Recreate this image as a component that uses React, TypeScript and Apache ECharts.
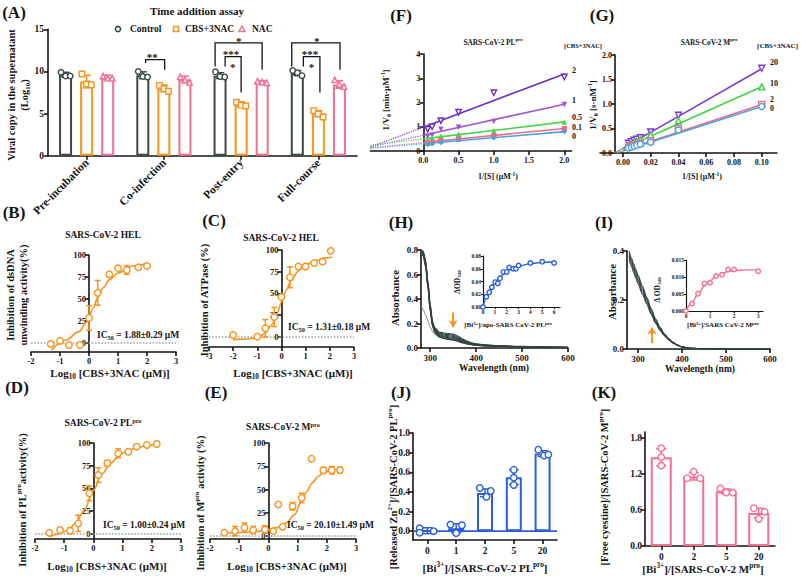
import React, { useEffect, useRef } from 'react';
import * as echarts from 'echarts';

const FONT = '"Liberation Serif", "Times New Roman", serif';
const INK = '#151515';
const ORANGE = '#f7931e';
const SLATE = '#3b4949';
const PINK = '#f2708f';
const BLUE = '#2b5ed8';
const DOT = '#9ca3a3';
const SPEC = '#344242';

// ---------- (A) Time addition assay ----------
const aCategories = ['Pre-incubation', 'Co-infection', 'Post-entry', 'Full-course'];
const aGroups = ['Control', 'CBS+3NAC', 'NAC'];
const aControlMean = [9.6, 9.55, 9.5, 9.8];
const aControlSd = [0.3, 0.4, 0.35, 0.3];
const aControlPts = [[9.9, 9.45, 9.45], [10.0, 9.4, 9.35], [9.95, 9.4, 9.35], [10.1, 9.85, 9.5]];
const aCbsMean = [8.8, 8.0, 6.1, 5.0];
const aCbsSd = [0.75, 0.4, 0.3, 0.35];
const aCbsPts = [[9.7, 8.5, 8.4], [8.35, 7.95, 7.65], [6.35, 6.0, 5.9], [5.35, 4.95, 4.6]];
const aNacMean = [9.3, 9.05, 8.75, 8.45];
const aNacSd = [0.25, 0.4, 0.15, 0.45];
const aNacPts = [[9.45, 9.2, 9.2], [9.35, 9.0, 8.7], [8.85, 8.75, 8.65], [9.0, 8.45, 8.2]];
// brackets: [x1, x2, yTop, yLeftEnd, yRightEnd] (category-index units / log10 copies)
const aBrackets = [
  [0.763, 1.01, 11.4, 11.0, 10.2],
  [1.663, 2.272, 13.4, 10.6, 10.2],
  [1.793, 2.0, 11.75, 10.6, 7.5],
  [2.655, 3.28, 13.4, 10.6, 10.2],
  [2.806, 3.02, 11.75, 10.6, 7.5],
];
const aStarPos = [[0.85, 12.0], [1.97, 13.9], [1.87, 12.4], [1.89, 10.8], [2.98, 13.95], [2.89, 12.4], [2.91, 10.8]];
const aStarText = ['**', '*', '***', '*', '*', '***', '*'];

// ---------- (B) HEL dsDNA unwinding ----------
const bX = [-1.32, -1.0, -0.69, -0.31, 0.0, 0.3, 0.7, 1.0, 1.3, 1.7, 2.0];
const bY = [-1, 2.6, -2.3, -2.3, 28.5, 57, 78, 85, 83, 86, 87.5];
const bErr = [0, 0, 0, 0, 14, 14, 0, 0, 5, 0, 0];
const bFitX = [-1.3, -0.8, -0.35, -0.07, 0.15, 0.3, 0.5, 0.7, 1.0, 1.5, 2.0];
const bFitY = [-8, 3.4, 13, 24, 40, 52, 63, 72, 79.5, 87.5, 90.5];

// ---------- (C) HEL ATPase ----------
const cX = [-2.0, -1.0, -0.67, -0.3, 0.0, 0.35, 0.7, 1.0, 1.35, 1.7, 2.04];
const cY = [2.3, 0.4, 10, 23, 46, 68.6, 81, 81, 85, 86.6, 99];
const cErr = [0, 0, 10, 11, 0, 12, 0, 0, 0, 0, 0];
const cFitX = [-2, -1.5, -1, -0.7, -0.4, -0.2, 0, 0.2, 0.4, 0.7, 1.0, 1.4, 1.8, 2.1];
const cFitY = [-3, -2.5, -1, 4, 14, 26, 40, 54, 65, 76, 83, 88, 91, 92];

// ---------- (D) PLpro ----------
const dX = [-1.51, -1.14, -0.8, -0.52, -0.14, 0.17, 0.48, 0.85, 1.2, 1.48, 1.83, 2.17];
const dY = [1.4, 4.4, 3.6, 11.7, 44.7, 64.8, 77.7, 88.6, 90.4, 96, 97.8, 98.9];
const dErr = [0, 0, 3, 9, 8, 8, 3, 5, 0, 0, 0, 0];
const dFitX = [-1.5, -1.2, -0.9, -0.6, -0.3, 0, 0.3, 0.6, 0.9, 1.2, 1.5, 1.8, 2.2];
const dFitY = [-3, 0, 3.6, 12, 27, 48, 66, 78, 87, 92, 95, 97, 99];

// ---------- (E) Mpro ----------
const eX = [-1.51, -1.14, -0.82, -0.52, -0.12, 0.17, 0.34, 0.49, 0.83, 1.14, 1.48, 1.88, 2.17, 2.45];
const eY = [3.6, 5.3, 9, 6.4, 7, 5.3, 34, 10, 32, 41, 83, 70.7, 70.7, 71];
const eErr = [0, 5, 5, 4, 4, 0, 0, 0, 4, 5, 0, 3, 4, 3];
const eFitX = [-1.5, -1, -0.5, 0, 0.3, 0.6, 0.9, 1.14, 1.3, 1.5, 1.7, 1.9, 2.2, 2.5];
const eFitY = [3, 3.5, 4.5, 6.5, 9, 14, 23, 38, 47, 57, 64, 68.5, 71, 72];

// ---------- (F) PLpro Lineweaver-Burk ----------
const fX = [0.0625, 0.125, 0.25, 0.5, 1, 2];
const fY2 = [0.9, 1.0, 1.25, 1.6, 2.4, 3.05];
const fY1 = [0.6, 0.65, 0.9, 0.98, 1.22, 1.92];
const fY05 = [0.45, 0.52, 0.62, 0.7, 0.84, 1.2];
const fY01 = [0.33, 0.36, 0.42, 0.5, 0.63, 0.92];
const fY0 = [0.27, 0.3, 0.35, 0.45, 0.55, 0.8];
const fFitX = [-0.75, 0, 2];
const fFit2 = [0.16, 0.98, 3.18];
const fFit1 = [0.17, 0.65, 1.93];
const fFit05 = [0.24, 0.5, 1.2];
const fFit01 = [0.13, 0.35, 0.93];
const fFit0 = [0.11, 0.3, 0.8];
const fLabels = ['2', '1', '0.5', '0.1', '0'];

// ---------- (G) Mpro Lineweaver-Burk ----------
const gX = [0.004, 0.006, 0.008, 0.01, 0.0125, 0.02, 0.04, 0.1];
const gY20 = [0.2, 0.23, 0.26, 0.28, 0.31, 0.43, 0.77, 1.73];
const gY10 = [0.15, 0.19, 0.22, 0.24, 0.27, 0.37, 0.66, 1.35];
const gY2 = [0.12, 0.14, 0.16, 0.18, 0.2, 0.25, 0.5, 0.99];
const gY0 = [0.1, 0.12, 0.14, 0.16, 0.18, 0.22, 0.47, 0.95];
const gFit20 = [[-0.006, 0], [0, 0.1], [0.1, 1.72]];
const gFit10 = [[-0.007, 0], [0, 0.09], [0.1, 1.35]];
const gFit2 = [[-0.0055, 0], [0, 0.05], [0.1, 0.99]];
const gFit0 = [[-0.0045, 0], [0, 0.04], [0.1, 0.95]];
const gLabels = ['20', '10', '2', '0'];

// ---------- (H) UV-vis PLpro ----------
const hWl = [280, 285, 290, 295, 300, 305, 310, 320, 330, 340, 350, 360, 370, 380, 390, 400, 420, 450, 500, 550, 600];
const hS1 = [0.80, 0.79, 0.72, 0.55, 0.36, 0.22, 0.165, 0.13, 0.122, 0.118, 0.113, 0.098, 0.076, 0.056, 0.043, 0.035, 0.026, 0.019, 0.013, 0.009, 0.006];
const hS2 = [0.80, 0.78, 0.71, 0.54, 0.35, 0.21, 0.158, 0.123, 0.114, 0.109, 0.104, 0.090, 0.069, 0.051, 0.039, 0.032, 0.024, 0.017, 0.012, 0.008, 0.005];
const hS3 = [0.80, 0.78, 0.70, 0.53, 0.34, 0.205, 0.15, 0.116, 0.106, 0.100, 0.095, 0.082, 0.063, 0.047, 0.036, 0.030, 0.022, 0.016, 0.011, 0.007, 0.005];
const hS4 = [0.79, 0.77, 0.69, 0.52, 0.33, 0.198, 0.143, 0.109, 0.098, 0.092, 0.087, 0.075, 0.057, 0.043, 0.033, 0.028, 0.021, 0.015, 0.010, 0.007, 0.004];
const hS5 = [0.79, 0.77, 0.68, 0.51, 0.32, 0.19, 0.137, 0.102, 0.091, 0.084, 0.079, 0.068, 0.052, 0.039, 0.031, 0.026, 0.019, 0.014, 0.009, 0.006, 0.004];
const hS6 = [0.78, 0.76, 0.67, 0.50, 0.31, 0.183, 0.130, 0.096, 0.084, 0.077, 0.072, 0.062, 0.047, 0.036, 0.029, 0.024, 0.018, 0.013, 0.009, 0.006, 0.004];
const hS7 = [0.78, 0.75, 0.66, 0.49, 0.30, 0.176, 0.124, 0.090, 0.078, 0.070, 0.065, 0.056, 0.043, 0.033, 0.027, 0.022, 0.017, 0.012, 0.008, 0.005, 0.003];
const hS0 = [0.35, 0.31, 0.27, 0.22, 0.17, 0.135, 0.11, 0.086, 0.076, 0.069, 0.063, 0.054, 0.042, 0.033, 0.026, 0.021, 0.016, 0.011, 0.008, 0.005, 0.003];
const hInsetX = [0, 0.28, 0.53, 0.75, 1.03, 1.25, 1.44, 1.72, 2.0, 2.22, 2.55, 2.78, 3.0, 4.0, 5.0, 6.0];
const hInsetY = [0, 0.016, 0.023, 0.031, 0.039, 0.037, 0.045, 0.055, 0.055, 0.062, 0.06, 0.06, 0.065, 0.069, 0.071, 0.069];
const hFitX = [0, 0.25, 0.5, 1, 1.5, 2, 2.5, 3, 4, 5, 6];
const hFitY = [0, 0.013, 0.024, 0.038, 0.048, 0.056, 0.061, 0.064, 0.068, 0.070, 0.071];

// ---------- (I) UV-vis Mpro ----------
const iWl = [280, 285, 290, 295, 300, 310, 320, 330, 340, 350, 360, 370, 380, 390, 400, 420, 450, 500, 550, 600];
const iS1 = [0.400, 0.372, 0.348, 0.325, 0.302, 0.258, 0.212, 0.165, 0.124, 0.090, 0.063, 0.043, 0.028, 0.017, 0.009, 0.003, 0.001, 0, 0, 0];
const iS2 = [0.395, 0.366, 0.341, 0.318, 0.295, 0.251, 0.206, 0.160, 0.120, 0.087, 0.061, 0.041, 0.027, 0.016, 0.009, 0.003, 0.001, 0, 0, 0];
const iS3 = [0.388, 0.359, 0.334, 0.311, 0.288, 0.244, 0.200, 0.155, 0.116, 0.084, 0.059, 0.040, 0.026, 0.016, 0.008, 0.003, 0.001, 0, 0, 0];
const iS4 = [0.380, 0.352, 0.327, 0.303, 0.280, 0.237, 0.194, 0.150, 0.112, 0.081, 0.057, 0.038, 0.025, 0.015, 0.008, 0.003, 0.001, 0, 0, 0];
const iS5 = [0.372, 0.344, 0.319, 0.295, 0.272, 0.230, 0.188, 0.145, 0.108, 0.078, 0.055, 0.037, 0.024, 0.014, 0.008, 0.003, 0.001, 0, 0, 0];
const iS6 = [0.365, 0.337, 0.312, 0.288, 0.265, 0.223, 0.182, 0.140, 0.104, 0.075, 0.053, 0.036, 0.023, 0.014, 0.007, 0.002, 0.001, 0, 0, 0];
const iInsetX = [0, 0.25, 0.5, 0.77, 1.0, 1.25, 1.5, 1.75, 2.0, 3.0];
const iInsetY = [0, 0.0022, 0.0051, 0.0081, 0.0083, 0.0103, 0.0107, 0.0122, 0.0122, 0.0117];
const iFitX = [0, 0.25, 0.5, 0.75, 1.0, 1.25, 1.5, 1.75, 2.0, 2.5, 3.0];
const iFitY = [0, 0.0025, 0.005, 0.0072, 0.0089, 0.0102, 0.011, 0.0116, 0.0119, 0.0121, 0.0121];

// ---------- (J) Zn release ----------
const jCategories = ['0', '1', '2', '5', '20'];
const jMean = [0.005, 0.03, 0.39, 0.55, 0.79];
const jSd = [0.03, 0.045, 0.04, 0.075, 0.03];
const jPts = [[0.03, -0.015, 0.0], [0.067, -0.02, 0.06], [0.44, 0.35, 0.41], [0.625, 0.47, 0.545], [0.83, 0.77, 0.78]];
const jJit = [[-0.27, -0.27, 0.22], [-0.2, 0, 0.2], [-0.18, 0.05, 0.2], [0, 0, 0], [-0.15, 0.05, 0.2]];

// ---------- (K) Free cysteine ----------
const kCategories = ['0', '2', '5', '20'];
const kMean = [1.48, 1.16, 0.91, 0.55];
const kSd = [0.14, 0.06, 0.04, 0.08];
const kPts = [[1.63, 1.48, 1.34], [1.24, 1.13, 1.13], [0.96, 0.89, 0.89], [0.63, 0.57, 0.45]];
const kJit = [[0, 0, 0], [0, -0.2, 0.2], [-0.18, 0, 0.2], [-0.15, 0.18, 0]];

const INV_TRI = 'path://M0,0L10,0L5,9Z';

function zip(xs: number[], ys: number[]) {
  return xs.map((x, i) => [x, ys[i]]);
}

function richStyles(size: number, color: string) {
  const s = +(size * 0.66).toFixed(1);
  return {
    sup: { fontSize: s, fontFamily: FONT, fontWeight: 'bold', fill: color, color, verticalAlign: 'top', lineHeight: s },
    sub: { fontSize: s, fontFamily: FONT, fontWeight: 'bold', fill: color, color, verticalAlign: 'bottom', lineHeight: s },
  };
}

function T(x: number, y: number, text: string, size: number, o: any = {}) {
  const color = o.color || INK;
  const align = o.align || 'center';
  return {
    type: 'text', x, y, rotation: o.rot ? Math.PI / 2 : 0, silent: true, z: 100,
    style: {
      text, fill: color, fontSize: size, fontFamily: FONT, fontWeight: o.weight || 'bold',
      align, verticalAlign: 'middle', textAlign: align, textVerticalAlign: 'middle',
      lineHeight: size * 1.25,
      rich: richStyles(size, color),
    },
  };
}

function buildOption() {
  const grid: any[] = [];
  const xAxis: any[] = [];
  const yAxis: any[] = [];
  const series: any[] = [];
  const gfx: any[] = [];

  const G = (left: number, top: number, width: number, height: number) => { grid.push({ left, top, width, height }); return grid.length - 1; };
  const X = (a: any) => { xAxis.push(a); return xAxis.length - 1; };
  const Y = (a: any) => { yAxis.push(a); return yAxis.length - 1; };
  const lineSt = (lw = 1.6) => ({ color: INK, width: lw });

  const val = (gi: number, min: number, max: number, ticks: number[], fmt: any, fs: number, o: any = {}) => ({
    type: 'value', gridIndex: gi, min, max,
    position: o.position, offset: o.offset || 0,
    axisLine: { show: true, onZero: false, lineStyle: lineSt(o.lw) },
    axisTick: { show: true, length: o.tick ?? 4, customValues: ticks, lineStyle: lineSt(o.lw) },
    axisLabel: { show: true, customValues: ticks, formatter: fmt, fontSize: fs, fontFamily: FONT, fontWeight: 'bold', color: INK, margin: o.margin ?? 3 },
    splitLine: { show: false },
  });
  const hidden = (gi: number, min: number, max: number) => ({ type: 'value', gridIndex: gi, min, max, show: false, splitLine: { show: false } });
  const cat = (gi: number, data: string[], fs: number, o: any = {}) => ({
    type: 'category', gridIndex: gi, data,
    axisLine: { show: true, onZero: false, lineStyle: lineSt(o.lw) },
    axisTick: { show: true, alignWithLabel: true, length: 4, lineStyle: lineSt(o.lw) },
    axisLabel: { interval: 0, rotate: o.rotate || 0, fontSize: fs, fontFamily: FONT, fontWeight: 'bold', color: INK, margin: o.margin ?? 5 },
    splitLine: { show: false },
  });

  const errs = (xi: number, yi: number, rows: number[][], color: string, cap: number, lw = 1.5) => ({
    type: 'custom', xAxisIndex: xi, yAxisIndex: yi, silent: true, z: 5,
    data: rows.filter((r) => r[2] > 0),
    renderItem: (params: any, api: any) => {
      const x = api.value(0), m = api.value(1), s = api.value(2);
      const p1 = api.coord([x, m + s]);
      const p2 = api.coord([x, m - s]);
      const st = { stroke: color, lineWidth: lw, fill: 'none' };
      return {
        type: 'group', children: [
          { type: 'line', shape: { x1: p1[0], y1: p1[1], x2: p2[0], y2: p2[1] }, style: st },
          { type: 'line', shape: { x1: p1[0] - cap, y1: p1[1], x2: p1[0] + cap, y2: p1[1] }, style: st },
          { type: 'line', shape: { x1: p2[0] - cap, y1: p2[1], x2: p2[0] + cap, y2: p2[1] }, style: st },
        ],
      };
    },
  });
  const sc = (xi: number, yi: number, data: any[], symbol: string, color: string, size: number, filled = false, name?: string) => ({
    type: 'scatter', name, xAxisIndex: xi, yAxisIndex: yi, data, symbol, symbolSize: size, z: 6, silent: true,
    itemStyle: { color: filled ? color : '#fff', borderColor: color, borderWidth: filled ? 0 : 1.4, opacity: 1 },
  });
  const ln = (xi: number, yi: number, data: any[], color: string, lw: number, o: any = {}) => ({
    type: 'line', xAxisIndex: xi, yAxisIndex: yi, data, symbol: 'none', showSymbol: false,
    smooth: o.smooth || false, smoothMonotone: o.smooth ? 'x' : undefined, silent: true, z: o.z || 3,
    lineStyle: { color, width: lw, type: o.type || 'solid' },
    markLine: o.markLine,
  });

  // ===== (A) =====
  const gA = G(48, 29.3, 309, 126.4);
  const xA = X(cat(gA, aCategories, 11.5, { rotate: 45, margin: 5 }));
  const xAh = X(hidden(gA, -0.5, 3.5));
  const yA = Y(val(gA, 0, 15, [0, 5, 10, 15], (v: number) => String(v), 9.5, { margin: 4 }));
  const aMeans = [aControlMean, aCbsMean, aNacMean];
  const aSds = [aControlSd, aCbsSd, aNacSd];
  const aPts = [aControlPts, aCbsPts, aNacPts];
  const aColors = [SLATE, ORANGE, PINK];
  const aSyms = ['circle', 'rect', 'triangle'];
  const aOff = [-0.272, 0, 0.272];
  const aJit = [-0.06, 0, 0.06];
  for (let k = 0; k < 3; k++) {
    series.push({
      type: 'bar', name: aGroups[k], xAxisIndex: xA, yAxisIndex: yA, data: aMeans[k], barWidth: 13, barGap: '62%',
      itemStyle: { color: '#fff', borderColor: aColors[k], borderWidth: 2 }, z: 2, silent: true,
    });
    series.push(errs(xAh, yA, aMeans[k].map((m, i) => [i + aOff[k], m, aSds[k][i]]), aColors[k], 4));
    series.push(sc(xAh, yA, aPts[k].flatMap((pts, i) => pts.map((v, j) => [i + aOff[k] + aJit[j], v])), aSyms[k], aColors[k], 5.5));
  }
  series.push({
    type: 'custom', xAxisIndex: xAh, yAxisIndex: yA, silent: true, z: 8, data: aBrackets,
    renderItem: (params: any, api: any) => {
      const x1 = api.value(0), x2 = api.value(1), yt = api.value(2), yl = api.value(3), yr = api.value(4);
      const a = api.coord([x1, yl]), b = api.coord([x1, yt]), c = api.coord([x2, yt]), d = api.coord([x2, yr]);
      return { type: 'polyline', shape: { points: [a, b, c, d] }, style: { stroke: INK, lineWidth: 1.3, fill: 'none' } };
    },
  });
  series.push({
    type: 'custom', xAxisIndex: xAh, yAxisIndex: yA, silent: true, z: 8, data: aStarPos,
    renderItem: (params: any, api: any) => {
      const p = api.coord([api.value(0), api.value(1)]);
      return {
        type: 'text', x: p[0], y: p[1] + 2.5,
        style: { text: aStarText[params.dataIndex], fontSize: 11, fontFamily: FONT, fontWeight: 'bold', fill: INK, align: 'center', verticalAlign: 'middle', textAlign: 'center', textVerticalAlign: 'middle' },
      };
    },
  });

  // ===== dose-response panels B-E =====
  const dose = (box: number[], xr: number[], ymin: number, xs: number[], ys: number[], es: number[], fx: number[], fy: number[]) => {
    const gi = G(box[0], box[1], box[2], box[3]);
    const ticks: number[] = [];
    for (let t = xr[0]; t <= xr[1]; t++) ticks.push(t);
    const yOffset = -((0 - xr[0]) / (xr[1] - xr[0])) * box[2];
    const xi = X(val(gi, xr[0], xr[1], ticks, (v: number) => String(v), 8.5, { margin: 4 }));
    const yi = Y(val(gi, ymin, 100, [0, 25, 50, 75, 100], (v: number) => String(v), 8.5, { offset: yOffset }));
    series.push(ln(xi, yi, [[xr[0], 0], [xr[1], 0]], DOT, 1.6, { type: 'dotted', z: 1 }));
    series.push(ln(xi, yi, zip(fx, fy), ORANGE, 1.6, { smooth: 0.3 }));
    series.push(errs(xi, yi, xs.map((x, i) => [x, ys[i], es[i]]), ORANGE, 3));
    series.push(sc(xi, yi, zip(xs, ys), 'circle', ORANGE, 6.5));
  };
  dose([31, 255, 145, 97], [-2, 3], -10.2, bX, bY, bErr, bFitX, bFitY);
  dose([209, 250, 145, 97], [-3, 3], -11.5, cX, cY, cErr, cFitX, cFitY);
  dose([35, 443, 146, 96], [-2, 3], -5.5, dX, dY, dErr, dFitX, dFitY);
  dose([210, 443, 146, 96], [-2, 3], -3.2, eX, eY, eErr, eFitX, eFitY);

  // ===== (F) =====
  const gF = G(370.4, 54, 201, 97);
  const xF = X(val(gF, -0.75, 2.1, [0, 0.5, 1, 1.5, 2], (v: number) => v.toFixed(1), 8, { margin: 5 }));
  const yF = Y(val(gF, 0, 4, [0, 1, 2, 3, 4], (v: number) => String(v), 8, { offset: -(0.75 / 2.85) * 201 }));
  const fSets = [
    { ys: fY2, fit: fFit2, color: '#6a2fc0', sym: INV_TRI, filled: false },
    { ys: fY1, fit: fFit1, color: '#a055d8', sym: INV_TRI, filled: true },
    { ys: fY05, fit: fFit05, color: '#45d845', sym: 'triangle', filled: true },
    { ys: fY01, fit: fFit01, color: '#f06a8c', sym: 'rect', filled: true },
    { ys: fY0, fit: fFit0, color: '#48a4e0', sym: 'diamond', filled: true },
  ];
  fSets.forEach((s) => {
    series.push(ln(xF, yF, [[fFitX[0], s.fit[0]], [fFitX[1], s.fit[1]]], s.color, 1.2, { type: 'dotted' }));
    series.push(ln(xF, yF, [[fFitX[1], s.fit[1]], [fFitX[2], s.fit[2]]], s.color, 1.6));
    series.push(sc(xF, yF, zip(fX, s.ys), s.sym, s.color, 5.5, s.filled));
  });

  // ===== (G) =====
  const gG = G(600, 55, 177, 98);
  const xG = X(val(gG, -0.0165, 0.111, [0, 0.02, 0.04, 0.06, 0.08, 0.1], (v: number) => v.toFixed(2), 8, { margin: 5 }));
  const yG = Y(val(gG, 0, 2, [0, 0.5, 1, 1.5, 2], (v: number) => v.toFixed(1), 8, { offset: -15 }));
  const gSets = [
    { ys: gY20, fit: gFit20, color: '#7a3fd0', sym: INV_TRI },
    { ys: gY10, fit: gFit10, color: '#3cd43c', sym: 'triangle' },
    { ys: gY2, fit: gFit2, color: '#f06a8c', sym: 'rect' },
    { ys: gY0, fit: gFit0, color: '#48a4e0', sym: 'circle' },
  ];
  gSets.forEach((s) => {
    series.push(ln(xG, yG, [s.fit[0], s.fit[1]], s.color, 1.2, { type: 'dotted' }));
    series.push(ln(xG, yG, [s.fit[1], s.fit[2]], s.color, 1.6));
    series.push(sc(xG, yG, zip(gX, s.ys), s.sym, s.color, 6));
  });

  // ===== (H) =====
  const gH = G(421, 250, 147, 98);
  const xH = X(val(gH, 280, 600, [300, 400, 500, 600], (v: number) => String(v), 9, { margin: 5 }));
  const yH = Y(val(gH, 0, 0.8, [0, 0.2, 0.4, 0.6, 0.8], (v: number) => v.toFixed(1), 9));
  [hS0, hS1, hS2, hS3, hS4, hS5, hS6, hS7].forEach((s, i) => {
    series.push(ln(xH, yH, zip(hWl, s), i === 0 ? '#6f7a7a' : SPEC, i === 0 ? 0.9 : 1.1, {
      smooth: 0.25,
      markLine: i === 1 ? {
        silent: true, symbol: ['none', 'arrow'], symbolSize: 7, label: { show: false },
        lineStyle: { color: ORANGE, width: 2, type: 'solid' },
        data: [[{ coord: [350, 0.29] }, { coord: [350, 0.17] }]],
      } : undefined,
    }));
  });
  const gHi = G(483, 256, 77, 51);
  const xHi = X(val(gHi, 0, 6.5, [0, 1, 2, 3, 4, 5, 6], (v: number) => String(v), 5.5, { tick: 2, lw: 1.2, margin: 2 }));
  const yHi = Y(val(gHi, 0, 0.08, [0, 0.02, 0.04, 0.06, 0.08], (v: number) => v.toFixed(2), 5.5, { tick: 2, lw: 1.2, margin: 2 }));
  series.push(ln(xHi, yHi, zip(hFitX, hFitY), BLUE, 1.4, { smooth: 0.3 }));
  series.push(sc(xHi, yHi, zip(hInsetX, hInsetY), 'circle', BLUE, 4.5));

  // ===== (I) =====
  const gI = G(627, 251, 143, 98);
  const xI = X(val(gI, 275, 600, [300, 400, 500, 600], (v: number) => String(v), 9, { margin: 5 }));
  const yI = Y(val(gI, 0, 0.4, [0, 0.2, 0.4], (v: number) => v.toFixed(1), 9));
  [iS1, iS2, iS3, iS4, iS5, iS6].forEach((s, i) => {
    series.push(ln(xI, yI, zip(iWl, s), SPEC, 1.0, {
      smooth: 0.25,
      markLine: i === 0 ? {
        silent: true, symbol: ['none', 'arrow'], symbolSize: 7, label: { show: false },
        lineStyle: { color: ORANGE, width: 2, type: 'solid' },
        data: [[{ coord: [332, 0.024] }, { coord: [332, 0.088] }]],
      } : undefined,
    }));
  });
  const gIi = G(686, 260, 77, 51);
  const xIi = X(val(gIi, 0, 3.2, [0, 1, 2, 3], (v: number) => String(v), 5.5, { tick: 2, lw: 1.2, margin: 2 }));
  const yIi = Y(val(gIi, 0, 0.015, [0, 0.005, 0.01, 0.015], (v: number) => v.toFixed(3), 5.5, { tick: 2, lw: 1.2, margin: 2 }));
  series.push(ln(xIi, yIi, zip(iFitX, iFitY), PINK, 1.4, { smooth: 0.3 }));
  series.push(sc(xIi, yIi, zip(iInsetX, iInsetY), 'circle', PINK, 4.5));

  // ===== (J) =====
  const gJ = G(413, 433, 144, 107);
  const xJ = X(cat(gJ, jCategories, 9.5, { margin: 6 }));
  const xJh = X(hidden(gJ, -0.5, 4.5));
  const yJ = Y(val(gJ, -0.09, 1.0, [0, 0.2, 0.4, 0.6, 0.8, 1.0], (v: number) => v.toFixed(1), 9.5));
  series.push({ type: 'bar', xAxisIndex: xJ, yAxisIndex: yJ, data: jMean, barWidth: 16, itemStyle: { color: '#fff', borderColor: BLUE, borderWidth: 2 }, z: 2, silent: true });
  series.push(ln(xJh, yJ, [[-0.5, 0], [4.5, 0]], BLUE, 1.6, { z: 4 }));
  series.push(errs(xJh, yJ, jMean.map((m, i) => [i, m, jSd[i]]), BLUE, 5));
  series.push(sc(xJh, yJ, jPts.flatMap((pts, i) => pts.map((v, j) => [i + jJit[i][j], v])), 'circle', BLUE, 6.5));

  // ===== (K) =====
  const gK = G(645, 432, 130, 114);
  const xK = X(cat(gK, kCategories, 9.5, { margin: 6 }));
  const xKh = X(hidden(gK, -0.5, 3.5));
  const yK = Y(val(gK, 0, 1.9, [0, 0.6, 1.2, 1.8], (v: number) => v.toFixed(1), 9.5));
  series.push({ type: 'bar', xAxisIndex: xK, yAxisIndex: yK, data: kMean, barWidth: 21, itemStyle: { color: '#fff', borderColor: PINK, borderWidth: 2 }, z: 2, silent: true });
  series.push(errs(xKh, yK, kMean.map((m, i) => [i, m, kSd[i]]), PINK, 5));
  series.push(sc(xKh, yK, kPts.flatMap((pts, i) => pts.map((v, j) => [i + kJit[i][j], v])), 'circle', PINK, 6.5));

  // ===== texts =====
  const letters: [string, number, number][] = [
    ['(A)', 14, 12], ['(B)', 14, 212], ['(C)', 214, 220], ['(D)', 17, 387], ['(E)', 216, 392],
    ['(F)', 401, 15], ['(G)', 602, 15], ['(H)', 401, 222], ['(I)', 604, 222], ['(J)', 401, 392], ['(K)', 604, 392],
  ];
  letters.forEach(([t, x, y]) => gfx.push(T(x, y, t, 17)));

  // A
  gfx.push(T(197, 11, 'Time addition assay', 11));
  gfx.push({ type: 'circle', silent: true, shape: { cx: 118, cy: 29, r: 2.6 }, style: { fill: '#fff', stroke: SLATE, lineWidth: 1.5 } });
  gfx.push({ type: 'rect', silent: true, shape: { x: 173.5, y: 26.5, width: 5, height: 5 }, style: { fill: '#fff', stroke: ORANGE, lineWidth: 1.5 } });
  gfx.push({ type: 'polygon', silent: true, shape: { points: [[242, 26], [245, 31.5], [239, 31.5]] }, style: { fill: '#fff', stroke: PINK, lineWidth: 1.5 } });
  gfx.push(T(130, 29, aGroups[0], 9.5, { align: 'left' }));
  gfx.push(T(185, 29, aGroups[1], 9.5, { align: 'left' }));
  gfx.push(T(252, 29, aGroups[2], 9.5, { align: 'left' }));
  gfx.push(T(11, 95, 'Viral copy in the supernatant', 10.5, { rot: 1 }));
  gfx.push(T(24, 95, '(Log{sub|10})', 10.5, { rot: 1 }));

  // B
  gfx.push(T(103, 235, 'SARS-CoV-2 HEL', 9.5));
  gfx.push(T(10, 295, 'Inhibition of dsDNA', 10.5, { rot: 1 }));
  gfx.push(T(23, 295, 'unwinding activity(%)', 10.5, { rot: 1 }));
  gfx.push(T(110, 373, 'Log{sub|10} [CBS+3NAC (μM)]', 11));
  gfx.push(T(97, 335, 'IC{sub|50} = 1.88±0.29 μM', 9.5, { align: 'left' }));
  // C
  gfx.push(T(281, 238, 'SARS-CoV-2 HEL', 9.5));
  gfx.push(T(204, 300, 'Inhibition of ATPase (%)', 10.5, { rot: 1 }));
  gfx.push(T(293, 373, 'Log{sub|10} [CBS+3NAC (μM)]', 11));
  gfx.push(T(288, 327, 'IC{sub|50} = 1.31±0.18 μM', 9.5, { align: 'left' }));
  // D
  gfx.push(T(103, 423, 'SARS-CoV-2 PL{sup|pro}', 9.5));
  gfx.push(T(22, 500, 'Inhibition of PL{sup|pro}activity(%)', 10.5, { rot: 1 }));
  gfx.push(T(107, 566, 'Log{sub|10} [CBS+3NAC (μM)]', 11));
  gfx.push(T(103, 525, 'IC{sub|50} = 1.00±0.24 μM', 9.5, { align: 'left' }));
  // E
  gfx.push(T(283, 427, 'SARS-CoV-2 M{sup|pro}', 9.5));
  gfx.push(T(200, 503, 'Inhibition of M{sup|pro} activity (%)', 10.5, { rot: 1 }));
  gfx.push(T(287, 566, 'Log{sub|10} [CBS+3NAC (μM)]', 11));
  gfx.push(T(287, 525, 'IC{sub|50} = 20.10±1.49 μM', 9.5, { align: 'left' }));
  // F
  gfx.push(T(493, 42, 'SARS-CoV-2 PL{sup|pro}', 7.3));
  gfx.push(T(583, 45, '[CBS+3NAC]', 6.5));
  gfx.push(T(386, 100, '1/V{sub|0} [min·μM{sup|-1}]', 9, { rot: 1 }));
  gfx.push(T(498, 176, '1/[S] (μM{sup|-1})', 8));
  const fLabY = [70, 100, 117, 127, 136];
  fLabels.forEach((t, i) => gfx.push(T(572, fLabY[i], t, 8, { align: 'left' })));
  // G
  gfx.push(T(709, 42, 'SARS-CoV-2 M{sup|pro}', 7.3));
  gfx.push(T(798, 46, '[CBS+3NAC]', 7, { align: 'right' }));
  gfx.push(T(593, 105, '1/V{sub|0} [s·nM{sup|-1}]', 9, { rot: 1 }));
  gfx.push(T(702, 176, '1/[S] (μM{sup|-1})', 8));
  const gLabY = [62, 83, 99, 108];
  gLabels.forEach((t, i) => gfx.push(T(770, gLabY[i], t, 8, { align: 'left' })));
  // H
  gfx.push(T(395, 298, 'Absorbance', 11, { rot: 1 }));
  gfx.push(T(494, 368, 'Wavelength (nm)', 9.5));
  gfx.push(T(457, 282, 'ΔOD{sub|340}', 7.5, { rot: 1 }));
  gfx.push(T(508, 325, '[Bi{sup|3+}]/apo-SARS CoV-2 PL{sup|pro}', 7));
  // I
  gfx.push(T(612, 292, 'Absorbance', 11, { rot: 1 }));
  gfx.push(T(700, 369, 'Wavelength (nm)', 9.5));
  gfx.push(T(657, 290, 'Δ OD{sub|340}', 7.5, { rot: 1 }));
  gfx.push(T(723, 325, '[Bi{sup|3+}]/SARS CoV-2 M{sup|pro}', 7));
  // J
  gfx.push(T(393, 487, '[Released Zn{sup|2+}]/[SARS-CoV-2 PL{sup|pro}]', 10.5, { rot: 1 }));
  gfx.push(T(485, 568, '[Bi{sup|3+}]/[SARS-CoV-2 PL{sup|pro}]', 11));
  // K
  gfx.push(T(604, 487, '[Free cyestine]/[SARS-CoV-2 M{sup|pro}]', 10.5, { rot: 1 }));
  gfx.push(T(703, 569, '[Bi{sup|3+}]/[SARS-CoV-2 M{sup|pro}]', 11));

  return {
    animation: false,
    backgroundColor: '#ffffff',
    textStyle: { fontFamily: FONT },
    grid, xAxis, yAxis, series,
    graphic: { elements: gfx },
  };
}

export default function App() {
  const ref = useRef<HTMLDivElement>(null);
  useEffect(() => {
    const chart = echarts.init(ref.current as HTMLDivElement, undefined, { renderer: 'svg' });
    chart.setOption(buildOption() as any);
    return () => chart.dispose();
  }, []);
  return <div ref={ref} style={{ position: 'absolute', left: 0, top: 0, width: 801, height: 581, background: '#fff' }} />;
}
